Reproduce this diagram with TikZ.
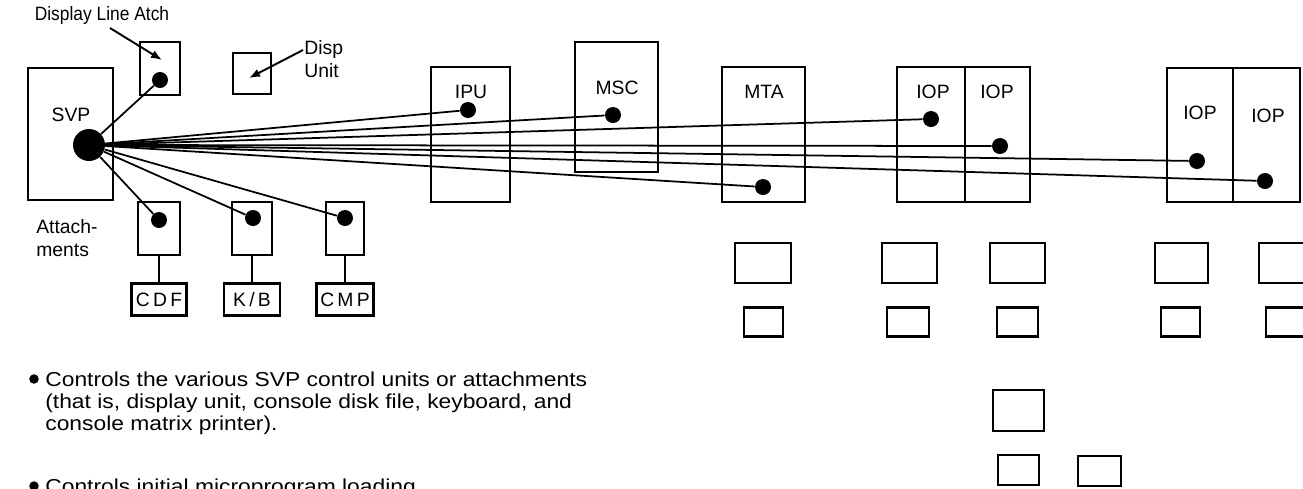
\documentclass[tikz,border=0pt]{standalone}
\usepackage{fontspec}
\setmainfont{Liberation Sans}
\newfontfamily\widesans[FakeStretch=1.13]{Liberation Sans}
\newfontfamily\narrowsans[FakeStretch=0.9]{Liberation Sans}
\usetikzlibrary{arrows.meta,positioning}

\begin{document}
\begin{tikzpicture}[x=0.02cm,y=-0.02cm,
  box/.style={draw,line width=1.4pt,inner sep=0pt},
  sz/.style 2 args={minimum width=#1*0.02cm,minimum height=#2*0.02cm},
  dot/.style={circle,fill,inner sep=0pt,minimum size=0.32cm},
  bigdot/.style={circle,fill,inner sep=0pt,minimum size=0.64cm},
  bullet/.style={circle,fill,inner sep=0pt,minimum size=0.19cm},
  lbl/.style={inner sep=0pt,font=\fontsize{11}{13}\selectfont},
  body/.style={inner sep=0pt,align=left,font=\widesans\fontsize{11.5}{12.8}\selectfont},
  wire/.style={line width=1pt},
  pointer/.style={line width=1.1pt,-{Latex[length=2.2mm,width=1.7mm]}}]
 \clip (0,0) rectangle (1303,488);
 % ---- SVP and its attachments ----
 \node[box,sz={85}{132}] (svp) at (70.5,134) {};
 \node[lbl] (svplbl) at (71,115) {SVP};
 \node[bigdot] (svpdot) at (89,145) {};
 \node[box,sz={40}{53}] (dla) at (160,68.5) {};
 \node[dot] (dladot) at (160,80) {};
 \node[box,sz={38}{41}] (disp) at (252,73.5) {};
 \node[box,sz={42}{53}] (cdfatt) at (159,228.5) {};
 \node[box,sz={40}{53}] (kbatt) at (252,228.5) {};
 \node[box,sz={38}{53}] (cmpatt) at (345,228.5) {};
 \node[dot] (cdfdot) at (159,220) {};
 \node[dot] (kbdot) at (253,218) {};
 \node[dot] (cmpdot) at (345,218) {};
 \node[box,sz={55}{32},lbl] (cdf) at (159,299.5) {C\,D\,F};
 \node[box,sz={56}{32},lbl] (kb) at (252,299.5) {K\,/\,B};
 \node[box,sz={57}{32},lbl] (cmp) at (345,299.5) {C\,M\,P};
 \draw[wire] (cdfatt) -- (cdf); \draw[wire] (kbatt) -- (kb); \draw[wire] (cmpatt) -- (cmp);
 \node[lbl,font=\narrowsans\fontsize{11}{13}\selectfont] (dlalbl) at (102,15) {Display Line Atch};
 \node[lbl,align=left,anchor=west] (displbl) at (304,59) {Disp\\Unit};
 \node[lbl,align=left,anchor=west] (attlbl) at (36,238) {Attach-\\ments};
 \coordinate (dlafrom) at (110,28); \coordinate (dlatip) at (162,60);
 \coordinate (dispfrom) at (303,50); \coordinate (disptip) at (249,78);
 \draw[pointer] (dlafrom) -- (dlatip);
 \draw[pointer] (dispfrom) -- (disptip);
 % ---- processor frames ----
 \node[box,sz={79}{135}] (ipu) at (470.5,134.5) {};
 \node[box,sz={83}{130}] (msc) at (616.5,107) {};
 \node[box,sz={83}{135}] (mta) at (763.5,134.5) {};
 \node[lbl] at (471,92) {IPU};
 \node[lbl] at (617,88) {MSC};
 \node[lbl] at (764,92) {MTA};
 \node[box,sz={68}{135}] (iopa) at (931,134.5) {};
 \node[box,sz={65}{135}] (iopb) at (997.5,134.5) {};
 \node[box,sz={66}{134}] (iopc) at (1200,135) {};
 \node[box,sz={67}{134}] (iopd) at (1266.5,135) {};
 \node[lbl] at (933,92) {IOP};
 \node[lbl] at (997,92) {IOP};
 \node[lbl] at (1200,113) {IOP};
 \node[lbl] at (1268,116) {IOP};
 \node[dot] (ipudot) at (468,110) {};
 \node[dot] (mscdot) at (613,115) {};
 \node[dot] (mtadot) at (763,187) {};
 \node[dot] (iopadot) at (931,119) {};
 \node[dot] (iopbdot) at (1000,146) {};
 \node[dot] (iopcdot) at (1197,161) {};
 \node[dot] (iopddot) at (1265,181) {};
 % ---- links from the SVP ----
 \draw[wire] (svpdot) -- (dladot);
 \draw[wire] (svpdot) -- (cdfdot); \draw[wire] (svpdot) -- (kbdot); \draw[wire] (svpdot) -- (cmpdot);
 \draw[wire] (svpdot) -- (ipudot); \draw[wire] (svpdot) -- (mscdot); \draw[wire] (svpdot) -- (mtadot);
 \draw[wire] (svpdot) -- (iopadot); \draw[wire] (svpdot) -- (iopbdot);
 \draw[wire] (svpdot) -- (iopcdot); \draw[wire] (svpdot) -- (iopddot);
 % ---- devices below ----
 \node[box,sz={56}{40}] (da1) at (763,263) {};
 \node[box,sz={55}{40}] (db1) at (909.5,263) {};
 \node[box,sz={55}{40}] (dc1) at (1017.5,263) {};
 \node[box,sz={53}{40}] (dd1) at (1181.5,263) {};
 \node[box,sz={56}{40}] (de1) at (1287,263) {};
 \node[box,sz={39}{29}] (da2) at (763.5,322) {};
 \node[box,sz={42}{29}] (db2) at (908,322) {};
 \node[box,sz={41}{29}] (dc2) at (1017.5,322) {};
 \node[box,sz={39}{29}] (dd2) at (1180.5,322) {};
 \node[box,sz={42}{29}] (de2) at (1287,322) {};
 \node[box,sz={51}{41}] (dc3) at (1018.5,410.5) {};
 \node[box,sz={41}{30}] (dc4) at (1018.5,470) {};
 \node[box,sz={43}{30}] (dc5) at (1099.5,471) {};
 % ---- notes ----
 \node[body,anchor=north west] (note1) at (45,371) {Controls the various SVP control units or attachments\\(that is, display unit, console disk file, keyboard, and\\console matrix printer).};
 \node[bullet] (bull1) at (34,379) {};
 \node[body,anchor=north west] (note2) at (45,478) {Controls initial microprogram loading};
 \node[bullet] (bull2) at (34,486) {};
\end{tikzpicture}
\end{document}
